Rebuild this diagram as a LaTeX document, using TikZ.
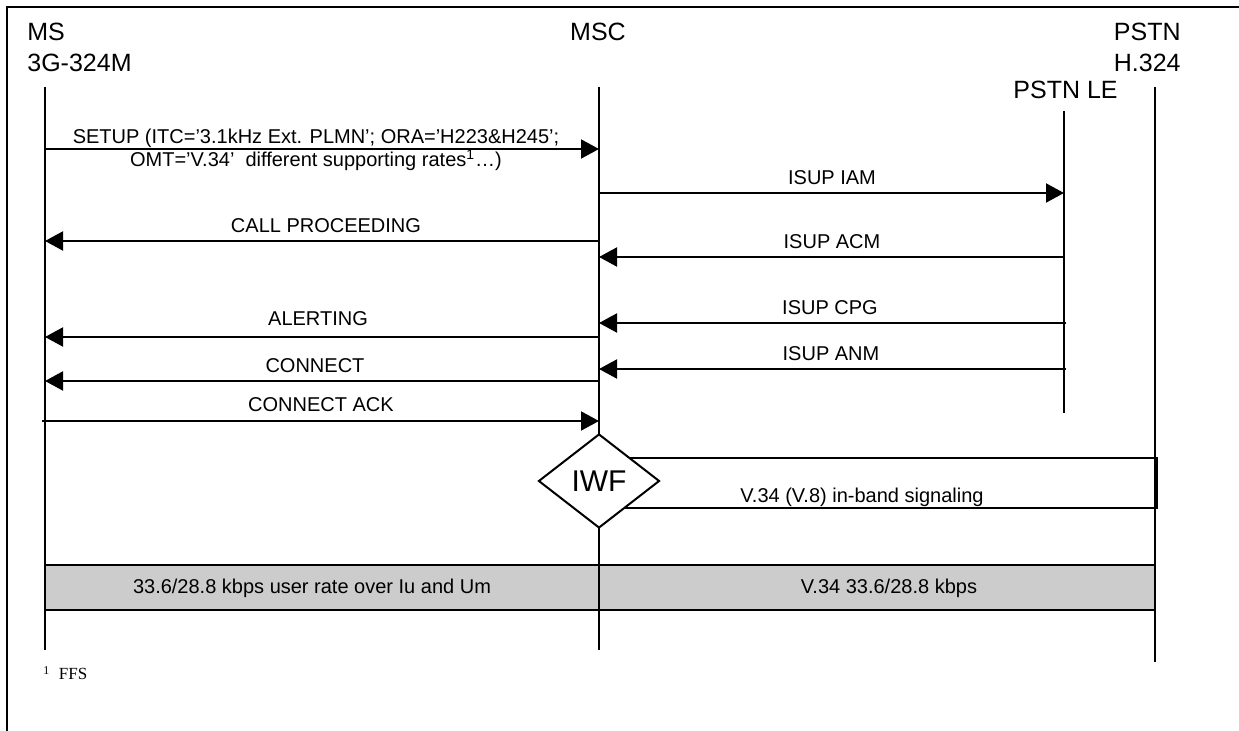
\documentclass[tikz,border=0pt]{standalone}
\usepackage{fontspec}
\setmainfont{Liberation Sans}
\newfontfamily\seriffont{Liberation Serif}
\usetikzlibrary{arrows.meta,shapes.geometric}
\definecolor{bandgray}{HTML}{CCCCCC}
\begin{document}
\begin{tikzpicture}[x=0.5pt,y=-0.5pt,
  life/.style={line width=1pt},
  msg/.style={line width=1pt,-{Triangle[length=9pt,width=9.5pt]}},
  lbl/.style={font=\fontsize{10}{12}\selectfont,anchor=base,inner sep=0pt},
  hdr/.style={font=\fontsize{12.5}{15}\selectfont,inner sep=0pt,anchor=base}]
\useasboundingbox (0,0) rectangle (1239,731);
% frame
\coordinate (fbl) at (7,731); \coordinate (ftl) at (7,7); \coordinate (ftr) at (1239,7);
\draw[line width=1.2pt] (fbl) -- (ftl) -- (ftr);
% headers
\node[hdr,anchor=base west] (hMS) at (27,41) {MS};
\node[hdr,anchor=base west] (h3G) at (27,72) {3G-324M};
\node[hdr] (hMSC) at (598,41) {MSC};
\node[hdr,anchor=base east] (hPSTN) at (1181,41) {PSTN};
\node[hdr,anchor=base east] (hH) at (1181,72) {H.324};
\node[hdr,anchor=base east] (hLE) at (1118,99) {PSTN LE};
% band
\fill[bandgray] (45,565) rectangle (1155,610);
\coordinate (b1) at (45,565); \coordinate (b2) at (1155,565);
\coordinate (b3) at (45,610); \coordinate (b4) at (1155,610);
\draw[line width=1.2pt] (b1) -- (b2);
\draw[line width=1.2pt] (b3) -- (b4);
\node[lbl] (bandL) at (312,594) {33.6/28.8 kbps user rate over Iu and Um};
\node[lbl] (bandR) at (889,594) {V.34 33.6/28.8 kbps};
% lifelines
\coordinate (msT) at (45,87);   \coordinate (msB) at (45,650);
\coordinate (mscT) at (599,87); \coordinate (mscB) at (599,650);
\coordinate (leT) at (1064,111); \coordinate (leB) at (1064,413);
\coordinate (pT) at (1155,87);  \coordinate (pB) at (1155,662);
\draw[life] (msT) -- (msB);
\draw[life] (mscT) -- (mscB);
\draw[life] (leT) -- (leB);
\draw[life] (pT) -- (pB);
% IWF in-band signalling box
\coordinate (i1) at (599,458); \coordinate (i2) at (1157,458);
\coordinate (i3) at (1157,508); \coordinate (i4) at (599,508);
\draw[line width=1pt] (i1) -- (i2) -- (i3) -- (i4);
\node[diamond,draw,fill=white,line width=1pt,aspect=1.29,inner sep=0pt,
      minimum width=60.5pt,minimum height=47pt,font=\fontsize{15}{17}\selectfont] (iwf) at (599,481) {IWF};
\node[lbl] (inband) at (862,503) {V.34 (V.8) in-band signaling};
% messages
\coordinate (s1) at (45,149);  \coordinate (s2) at (599,149);
\draw[msg] (s1) -- (s2);
\node[lbl] (setup1) at (316,144) {SETUP (ITC='3.1kHz Ext. PLMN'; ORA='H223\&H245';};
\node[lbl] (setup2) at (316,167) {OMT='V.34'\ \ different supporting rates\textsuperscript{1}…)};
\coordinate (a1) at (599,193); \coordinate (a2) at (1064,193);
\draw[msg] (a1) -- (a2);
\node[lbl] (iam) at (832,185) {ISUP IAM};
\coordinate (c1) at (599,241); \coordinate (c2) at (45,241);
\draw[msg] (c1) -- (c2);
\node[lbl] (cp) at (326,233) {CALL PROCEEDING};
\coordinate (d1) at (1064,257); \coordinate (d2) at (599,257);
\draw[msg] (d1) -- (d2);
\node[lbl] (acm) at (832,249) {ISUP ACM};
\coordinate (e1) at (1066,323); \coordinate (e2) at (599,323);
\draw[msg] (e1) -- (e2);
\node[lbl] (cpg) at (830,315) {ISUP CPG};
\coordinate (f1) at (599,337); \coordinate (f2) at (45,337);
\draw[msg] (f1) -- (f2);
\node[lbl] (alert) at (318,326) {ALERTING};
\coordinate (g1) at (1066,369); \coordinate (g2) at (599,369);
\draw[msg] (g1) -- (g2);
\node[lbl] (anm) at (831,361) {ISUP ANM};
\coordinate (h1) at (599,381); \coordinate (h2) at (45,381);
\draw[msg] (h1) -- (h2);
\node[lbl] (conn) at (315,373) {CONNECT};
\coordinate (k1) at (42,421); \coordinate (k2) at (599,421);
\draw[msg] (k1) -- (k2);
\node[lbl] (cack) at (321,412) {CONNECT ACK};
% footnote
\node[inner sep=0pt,anchor=base west,font=\seriffont\fontsize{8.5}{10}\selectfont] (fn) at (43,680) {\textsuperscript{1}\ \ FFS};
\end{tikzpicture}
\end{document}
